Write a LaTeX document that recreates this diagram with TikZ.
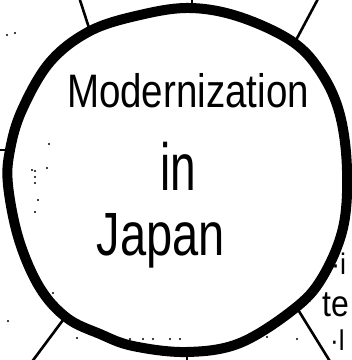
\documentclass[tikz,border=0pt]{standalone}
\usepackage{fontspec}
\setmainfont{Liberation Sans}
\tikzset{
  ring/.style={line width=10pt, line join=round},
  spoke/.style={line width=2.6pt, line cap=round},
  hand/.style={inner sep=0pt, anchor=base, text=black},
  edgetext/.style={inner sep=0pt, anchor=base west, text=black},
  speck/.style={fill=black, draw=none},
}
\begin{document}
\begin{tikzpicture}[x=1pt, y=-1pt]
\path[use as bounding box, clip] (0,0) rectangle (352,360);
\fill[white] (0,0) rectangle (352,360);

% the hand-drawn ring
\draw[ring] plot[smooth cycle, tension=0.6] coordinates {
  (190,8) (240,17) (293,42) (322,74) (340,115) (347,170) (343,228)
  (322,278) (294,309) (240,343) (187,352) (133,346) (100,334) (67,318)
  (40,288) (19,240) (8,185) (10,150) (22,110) (50,62) (90,31) (140,15)};

% spoke anchors on the ring and their free ends
\coordinate (tl) at (90,31);   \coordinate (tlEnd) at (79,-3);
\coordinate (tp) at (192,8);   \coordinate (tpEnd) at (192,-3);
\coordinate (tr) at (295,42);  \coordinate (trEnd) at (319,-3);
\coordinate (lf) at (9,150);   \coordinate (lfEnd) at (-3,150);
\coordinate (bl) at (63,320);  \coordinate (blEnd) at (31,363);
\coordinate (bt) at (187,351); \coordinate (btEnd) at (187,363);
\coordinate (br) at (297,308); \coordinate (brEnd) at (331,363);

\draw[spoke] (tl) -- (tlEnd);
\draw[spoke] (tp) -- (tpEnd);
\draw[spoke] (tr) -- (trEnd);
\draw[spoke] (lf) -- (lfEnd);
\draw[spoke] (bl) -- (blEnd);
\draw[spoke] (bt) -- (btEnd);
\draw[spoke] (br) -- (brEnd);

% central title
\node[hand] (t1) at (188,107) {\fontsize{38.5}{40}\selectfont\scalebox{1}[1.22]{Modernization}};
\node[hand] (t2) at (178,190) {\fontsize{46}{48}\selectfont\scalebox{1}[1.45]{in}};
\node[hand] (t3) at (161,255) {\fontsize{47}{49}\selectfont\scalebox{1}[1.3]{Japan}};

% cut-off words at the right edge
\node[edgetext] (r1) at (331,274) {\fontsize{27}{28}\selectfont\scalebox{1}[1.1]{·i}};
\node[edgetext] (r2) at (322,316) {\fontsize{32}{34}\selectfont\scalebox{1}[1.15]{te}};
\node[edgetext] (r3) at (330,350) {\fontsize{26}{28}\selectfont\scalebox{1}[1.1]{·l}};

% scan specks
\foreach \p in {(7,35),(15,33),(49,144),(32,170),(35,171),(47,168),(35,177),
  (35,183),(38,200),(35,212),(8,321),(53,293),(77,338),(110,339),(130,339),
  (143,339),(153,339),(170,339),(180,339),(267,337),(297,339),(326,74)}
  \fill[speck] \p circle (1.2pt);
\end{tikzpicture}
\end{document}
